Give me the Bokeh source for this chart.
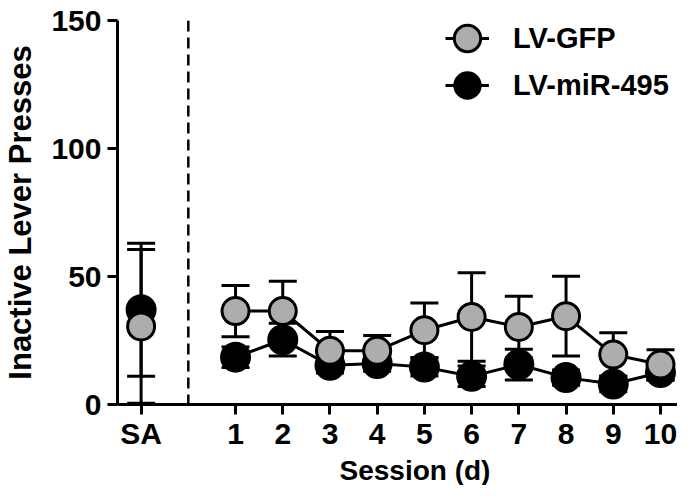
from bokeh.plotting import figure
from bokeh.models import (ColumnDataSource, Whisker, TeeHead, Span, Legend, LegendItem,
                          FixedTicker, Range1d, Title)
from bokeh.embed import file_html
from bokeh.resources import INLINE

# ---- data ----
sa_pos = -1
sessions = [1, 2, 3, 4, 5, 6, 7, 8, 9, 10]
x_ticks = [-1, 1, 2, 3, 4, 5, 6, 7, 8, 9, 10]
x_tick_labels = ["SA", "1", "2", "3", "4", "5", "6", "7", "8", "9", "10"]
y_ticks = [0, 50, 100, 150]

gfp_sa_mean = 30.5
gfp_sa_sem = 30.0
mir_sa_mean = 37.0
mir_sa_sem = 26.0

gfp_mean = [36.5, 36.5, 21.0, 21.0, 29.0, 34.2, 30.3, 34.5, 19.5, 15.6]
gfp_sem = [10.0, 11.6, 7.5, 6.0, 10.6, 17.3, 12.0, 15.6, 8.5, 5.8]
mir_mean = [18.5, 25.3, 15.3, 16.0, 14.6, 11.0, 15.6, 10.5, 8.0, 12.5]
mir_sem = [4.0, 6.4, 3.0, 3.0, 3.5, 4.0, 6.0, 3.0, 3.0, 3.0]

GREY = "#ADADAD"
FONT = "Liberation Sans"

W, H = 677, 485
left, top, bottom = 116, 20, 80
FW = W - left
FH = H - top - bottom
px_per_unit = 47.3
x_start = -1.5
x_end = x_start + FW / px_per_unit

p = figure(width=W, height=H, output_backend="svg", toolbar_location=None,
           x_range=Range1d(x_start, x_end), y_range=Range1d(0, 150),
           min_border_left=left, min_border_top=top, min_border_bottom=bottom,
           min_border_right=0)
p.outline_line_color = None
p.xgrid.visible = False
p.ygrid.visible = False
p.background_fill_color = "white"
p.border_fill_color = "white"

def style_axis(ax, tick_size):
    ax.axis_line_width = 3
    ax.axis_line_color = "black"
    ax.major_tick_line_width = 3
    ax.major_tick_out = 10
    ax.major_tick_in = 0
    ax.minor_tick_line_color = None
    ax.major_label_text_font = FONT
    ax.major_label_text_font_style = "bold"
    ax.major_label_text_font_size = tick_size
    ax.major_label_text_color = "black"
    ax.axis_label_text_font = FONT
    ax.axis_label_text_font_style = "bold"
    ax.axis_label_text_color = "black"

style_axis(p.xaxis[0], "30px")
style_axis(p.yaxis[0], "30px")
p.xaxis[0].ticker = FixedTicker(ticks=x_ticks)
p.xaxis[0].major_label_overrides = {t: l for t, l in zip(x_ticks, x_tick_labels)}
p.xaxis[0].major_label_standoff = 2
p.yaxis[0].ticker = FixedTicker(ticks=y_ticks)
p.yaxis[0].axis_label = "Inactive Lever Presses"
p.yaxis[0].axis_label_text_font_size = "31px"
p.yaxis[0].major_label_standoff = 6
p.yaxis[0].axis_label_standoff = 10

# x-axis title, offset to the right as in the reference
p.add_layout(Title(text="Session (d)", align="left", offset=222, standoff=0,
                   text_font=FONT, text_font_style="bold", text_font_size="28px",
                   text_color="black"), "below")

# dashed separator
p.add_layout(Span(location=0, dimension="height", line_color="black",
                  line_width=2.5, line_dash="11 6"))

def series(sa_mean, sa_sem, means, sems):
    xs = [sa_pos] + sessions
    ys = [sa_mean] + means
    se = [sa_sem] + sems
    return ColumnDataSource(dict(x=xs, y=ys,
                                 upper=[a + b for a, b in zip(ys, se)],
                                 lower=[a - b for a, b in zip(ys, se)]))

mir_src = series(mir_sa_mean, mir_sa_sem, mir_mean, mir_sem)
gfp_src = series(gfp_sa_mean, gfp_sa_sem, gfp_mean, gfp_sem)
mir_line_src = ColumnDataSource(dict(x=sessions, y=mir_mean))
gfp_line_src = ColumnDataSource(dict(x=sessions, y=gfp_mean))

def draw(src, line_src, fill, size, lw):
    ln = p.line("x", "y", source=line_src, line_color="black", line_width=3)
    wh = Whisker(source=src, base="x", upper="upper", lower="lower",
                 line_color="black", line_width=3,
                 upper_head=TeeHead(size=28, line_width=3, line_color="black"),
                 lower_head=TeeHead(size=28, line_width=3, line_color="black"))
    p.add_layout(wh)
    sc = p.scatter("x", "y", source=src, marker="circle", size=size,
                   fill_color=fill, line_color="black", line_width=lw)
    return ln, sc

mir_ln, mir_sc = draw(mir_src, mir_line_src, "black", 29, 2)
gfp_ln, gfp_sc = draw(gfp_src, gfp_line_src, GREY, 27, 3)

def style_legend(lg):
    lg.padding = 0
    lg.margin = 0
    lg.border_line_color = None
    lg.background_fill_alpha = 0
    lg.label_text_font = FONT
    lg.label_text_font_style = "bold"
    lg.label_text_font_size = "29px"
    lg.label_text_color = "black"

# legend: lines + labels
item_h, gap = 34, 13
leg_left = 328          # frame px
leg_top_below = 2       # px below frame top
leg_h = 2 * item_h + gap
legend = Legend(items=[LegendItem(label="LV-GFP", renderers=[gfp_ln]),
                       LegendItem(label="LV-miR-495", renderers=[mir_ln])],
                location=(leg_left, FH - leg_top_below - leg_h), orientation="vertical")
legend.glyph_width = 44
legend.glyph_height = item_h
legend.label_height = item_h
legend.spacing = gap
legend.label_standoff = 24
style_legend(legend)
p.add_layout(legend)

# legend markers (large circles, drawn over the legend lines)
mk = 66
for i, sc in enumerate([gfp_sc, mir_sc]):
    cy_from_top = leg_top_below + item_h / 2 + i * (item_h + gap)
    lg = Legend(items=[LegendItem(label="", renderers=[sc])],
                location=(leg_left + 22 - mk / 2, FH - cy_from_top - mk / 2),
                orientation="vertical")
    lg.glyph_width = mk
    lg.glyph_height = mk
    lg.label_height = mk
    lg.label_width = 0
    lg.label_standoff = 0
    lg.spacing = 0
    style_legend(lg)
    p.add_layout(lg)

open("out.html", "w").write(file_html(p, INLINE))
